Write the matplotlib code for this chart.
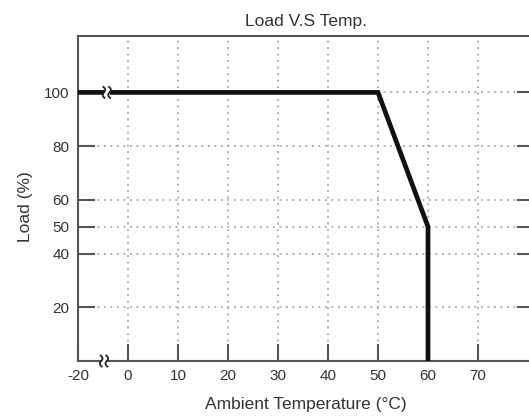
import matplotlib
matplotlib.use('Agg')
import matplotlib.pyplot as plt
import numpy as np
from matplotlib.transforms import ScaledTranslation

# ---- data ----
temps = [-20, 50, 60, 60]
loads = [100, 100, 50, 0]
x_ticks = [-20, 0, 10, 20, 30, 40, 50, 60, 70]
y_ticks = [20, 40, 50, 60, 80, 100]
title = "Load V.S Temp."
xlabel = "Ambient Temperature (°C)"
ylabel = "Load (%)"


def pos(t):
    """Axis break: the -20..0 range is drawn at half scale."""
    t = np.asarray(t, float)
    return np.where(t < 0, t / 2.0, t)


plt.rcParams['font.family'] = ['Liberation Sans', 'DejaVu Sans']
TXT = '#333333'
AX = '#555555'

W, H = 529, 420
fig = plt.figure(figsize=(W / 100, H / 100), dpi=100)
ax = fig.add_axes([78 / W, (H - 361) / H, 456 / W, (361 - 36) / H])
ax.set_xlim(-10, 81.2)
ax.set_ylim(0, 121)

ax.set_xticks(pos(x_ticks))
ax.set_xticklabels([str(v) for v in x_ticks])
ax.set_yticks(y_ticks)
ax.set_yticklabels([str(v) for v in y_ticks])
ax.tick_params(axis='both', direction='in', length=12, width=1.5, color=AX,
               labelsize=11, labelcolor=TXT, pad=6)
ax.tick_params(axis='y', right=True)

ax.grid(True, linestyle=(0, (1.0, 2.6)), color='#a8a8a8', linewidth=1.3)
ax.set_axisbelow(True)
for s in ax.spines.values():
    s.set_color(AX)
    s.set_linewidth(1.5)
ax.spines['right'].set_color('#aaaaaa')

ax.plot(pos(temps), loads, color='#111111', linewidth=3.4,
        solid_joinstyle='miter', zorder=3)

ax.set_title(title, fontsize=12.5, color=TXT, pad=7)
ax.set_xlabel(xlabel, fontsize=12.5, color=TXT, labelpad=10)
ax.set_ylabel(ylabel, fontsize=12.5, color=TXT)
ax.yaxis.set_label_coords(-0.099, 0.474)


def break_mark(x, y, gap_h):
    tr = fig.dpi_scale_trans + ScaledTranslation(x, y, ax.transData)
    ax.add_patch(plt.Rectangle((-0.03, -gap_h / 2), 0.06, gap_h,
                               facecolor='white', edgecolor='none',
                               transform=tr, clip_on=False, zorder=6))
    t = np.linspace(-0.055, 0.055, 40)
    for dx in (-0.028, 0.028):
        xs = dx + 0.016 * np.sin(2 * np.pi * t / 0.11) - 0.1 * t
        ax.plot(xs, t, color='#222222', linewidth=1.3, transform=tr,
                clip_on=False, zorder=7)


break_mark(pos(-8.5), loads[0], 0.05)
break_mark(pos(-9.6), 0, 0.03)

fig.savefig('out.png', dpi=100)
